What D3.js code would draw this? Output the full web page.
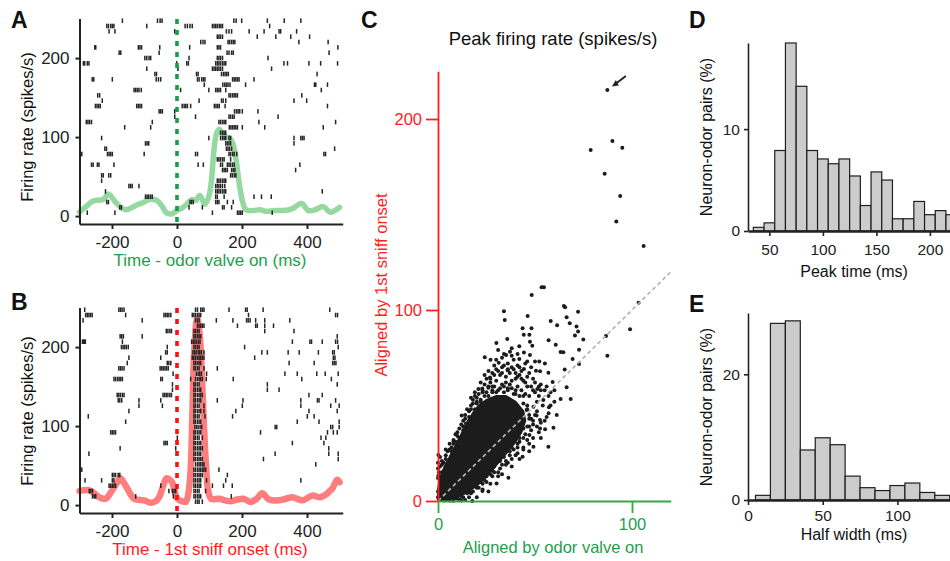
<!DOCTYPE html>
<html>
<head>
<meta charset="utf-8">
<script src="https://cdn.jsdelivr.net/npm/d3@7"></script>
<style>
  body { margin: 0; background: #fff; }
  svg { display: block; font-family: "Liberation Sans", Arial, sans-serif; }
</style>
</head>
<body>
<script>
// ---- data ----
// spike times (ms) per trial, top row first
const rasterValve = [
  [-168,-60,-52,-46,175,182,199,278,330,381],
  [-216,-211,-204,-199,-194,-93,25,32,40,47,109,114,119,124,130,135,140,285],
  [-209,-191,-7,152,160,168,222,268,314,319,368],
  [124,129,134,140,247,304,350,408],
  [73,80,86,157,162,168,173,178,375,465],
  [-253,-250,-119,-114,-109,-53,39,124,129,134,495],
  [-178,-173,-55,154,160,168,173,468],
  [-99,-93,-86,-81,37,124,129,134,140,280],
  [-288,-284,-276,-271,-1,30,35,119,124,129,134,140,145,150,329,340,406,442,494],
  [-93,3,109,114,119,124,129,134,140,291],
  [-68,-63,60,65,137,143,148,153,158,431,504],
  [-261,-256,-199,-64,-57,-50,63,68,76,81,86,171,176,181,186,191,237],
  [84,141,147,152,157,163,211,423,427,463],
  [-132,-127,-122,-117,-110,11,98,119,124,129,134,150,444],
  [-244,-238,160,165,171,176,181,186,384],
  [-230,68,137,142,150,360,399],
  [-251,-246,-241,-236,-124,-119,-114,-109,16,22,27,32,42,115,120,125,130,148,463,504],
  [-55,-50,-45,-7,177,183,188,193,201,249],
  [-7,57,160,165,171,176,311],
  [-279,-274,-269,-263,-76,129,134,140,145,150,252,488],
  [-161,-81,161,166,171,176,181,186,201,270,450],
  [134,140,145,150],
  [-232,98,134,140,145,150,160,165,360,381,386,391],
  [-97,-92,-87,150,155,160,165,360],
  [-222,-217,152,157,162,168,485],
  [-293,-214,-209,-204,-199,-101,57,63,160,165,171,176,184,452,457],
  [124,129,134,140,145,165],
  [-263,-258,-245,-240,-194,65,81,134,140,155,160,165,171,176,378],
  [140,145,150,155,168,173,178,365],
  [-232,-227,-210,-204,165,170,176,181],
  [-232,124,129,134,140,145,150],
  [-148,-143,-138,-117,119,124,129,134,140,147],
  [-220,119,124,129,134,140,145,150,447],
  [-97,-92,-87,-81,-76,119,124,145,237,260,290],
  [-216,-211,40,45,50,119,124,129,155,173],
  [-176,-171,37,78,140,145,168],
  [-276,-191,109,186,191,196,201,293]
];

const rasterSniff = [
  [-284,-179,-174,-169,-163,57,63,73,78,83,160,211,216,265,470],
  [-281,-276,-271,-266,-261,-158,-40,-35,-30,-25,-19,47,52,57,63,68,73,220,488,494],
  [-289,-107,57,63,68,121,172,214,219,225,242,270,347],
  [63,68,73,78,83,186,242,247,270,297],
  [-33,-28,-22,-17,52,57,63,68,270,360],
  [-175,-170,-165,-107,52,57,63,68,73,493],
  [-291,-288,-285,-282,-168,45,50,55,60,66,71,355,409,414,447,488,494],
  [-171,-166,-161,-156,-150,-30,52,57,63,68,208,496],
  [-35,-30,49,54,59,65,70,75,83,261,278,342,376,435,479,484],
  [-148,-50,47,52,57,63,68,73,78,83,239,481,486],
  [-153,-30,-25,-19,52,57,63,68,73,345,422,479,484,489],
  [-179,-174,-169,-163,-52,-47,-42,-37,-32,-27,52,57,63,68,83,124],
  [-12,60,65,70,75,91,332,370,430,456,496],
  [-194,-189,-183,-178,-173,-168,-50,-45,42,57,63,68,73,78,90,173,384,475],
  [-14,52,57,63,68,278,493],
  [-14,52,57,63,68,73,278,314],
  [-299,-184,-179,-174,-168,-163,-43,-38,-33,-28,-22,-17,52,57,63,68,73,78,406,447],
  [-181,-176,-170,-117,-50,52,57,63,68,73,124,203,381,432,437,488],
  [-117,-45,52,57,63,68,83,201,381,473,499],
  [-148,52,57,63,68,73,83,181,406,493],
  [-273,52,57,63,68,86,171,401,422],
  [-158,52,57,63,68,73,370,437,499],
  [55,60,65,71,76,302,307,473,479,499],
  [-204,-199,-194,-189,52,57,63,68,73,257,463,481,493],
  [1,52,57,63,68,78,443,458],
  [-299,-40,-35,-30,52,57,63,68,73,355,452],
  [-175,-4,52,57,63,68,73,78,467],
  [-271,1,52,57,63,68,73,302,467,496],
  [52,57,63,68,73,78,266,496],
  [57,63,68,73,78,83,427],
  [-293,52,57,63,68,73,78,83,88,129],
  [-199,-194,-189,-181,-176,52,57,63,68,73,78,155],
  [-283,-232,-199,-194,52,57,63,68,73,91,150,381],
  [-209,-204,-199,-194,-189,-50,52,57,63,68,73,109,143,170],
  [-270,-265,-260,-25,-14,-9,-4,52,57,63,68,88],
  [-260,-255,-250,-127,-11,52,57,63,68,73,167],
  [57,63,68,78]
];

// firing rate curves (time ms, spikes/s)
const rateValveT = [-300,-280,-258,-227,-211,-190,-170,-155,-124,-100,-88,-63,-45,-32,-15,-1,15,30,45,58,70,86,98,106,114,122,130,140,150,162,172,182,192,202,212,235,255,276,300,327,345,358,383,404,425,450,471,490,500];
const rateValve  = [5,12,19,21,28,18,10,8,14,18,21,20,12,4,3,7,10,15,21,20,26,15,25,45,85,105,110,104,100,99,92,70,40,18,8,7,8,6,7,7,8,10,16,7,8,12,5,8,11];

const rateSniffT = [-300,-271,-255,-240,-220,-199,-185,-174,-163,-153,-132,-101,-81,-65,-55,-42,-32,-22,-14,1,15,27,35,42,47,53,62,70,77,83,90,96,105,130,148,165,185,205,226,245,262,283,314,335,355,386,416,440,457,470,478,493,500];
const rateSniff  = [18,19,15,10,8,19,28,34,28,21,8,6,3,5,10,25,34,32,28,8,5,4,15,45,110,195,236,215,160,100,45,18,8,8,6,5,7,8,4,8,15,7,6,8,10,6,12,10,13,18,21,32,29];

// peak firing rate: solid core outline [valve, sniff]
const coreOutline = [[0,0],[0,6],[1,12],[3,17],[6,23],[9,29],[12,35],[15,41],[18,46],[21,50],[25,53],[30,55],[35,55],[40,52],[44,47],[45,42],[43,36],[40,31],[36,26],[31,20],[26,14],[20,8],[14,4],[8,1.5],[3,0]];
// individual neuron-odor pairs [valve, sniff]
const pairPoints = [
  [87.3,215.2],[78.7,183.8],[89.9,188.5],[95,185],[85.9,171.4],[93.9,159.7],[91.9,146.4],[106,133.5],
  [53.4,111.9],[54.6,111.9],[48.3,107.9],[103.4,103.8],[64.9,102.1],[65.5,101.4],[72.2,99.1],[34,99.3],
  [46.2,96.9],[34.4,94.8],[58.1,94.2],[66.3,96.2],[61.4,92],[67.9,93],[71.4,91.3],[43.6,90.4],[48.2,90.4],
  [72.2,88.8],[44.2,87],[47.1,87],[86.6,86.4],[70.6,86.6],[57,84.1],[74.9,84.6],[35.7,84.8],[47.4,83.4],
  [48.6,81.3],[99,89.9],[60.7,81.8],[30.1,82.7],[72.7,79.2],[41.9,81],[63.2,78],[64.6,77.9],[37.1,78.2],
  [44.3,77.7],[87.3,76.1],[24.1,75.2],[27.1,74],[31.3,72.4],[35.1,76.4],[41.9,74.4],[47.4,76.4],[52.2,73],
  [55.1,72],[69.4,74.4],[72.7,71.7],[65.3,68.8],[56.9,67.2],[50.5,68.2],[52.6,67.9],[44.3,69.1],[35.9,68.5],
  [26.8,64.7],[40.9,65],[66.3,59.5],[59.1,62.3],[51.2,58.6],[20.8,58.6],[22.8,58.9],[25.9,59.3],[63.2,53.4],
  [68.4,53.4],[57.2,49.1],[61.2,45],[12.2,44.7],[14.4,40.6],[59.5,38.4],[52.6,37.9],[55.2,37.6],[47.1,34.6],
  [49.2,28.4],[56.9,28.4],[43.6,23.2],[36.3,12.2],[30.2,9.2],[22.9,5.2],[17.7,0],[0.2,24.1],[0.2,13.2],
  [7.9,0.1],[52.6,42.4],[49.2,49.4],[45.7,47.6],[56,44],[54.3,52.9],[50.8,44.8],
  [8,30],[10,34],[13,39],[16,47],[18,51],[20,54],[23,57],[24,61],[27,62],[29,66],[30,69],[33,70],[36,72],
  [38,70],[40,67],[43,64],[45,62],[48,60],[50,57],[52,55],[44,55],[40,58],[35,62],[30,63],[28,60],[32,66],
  [38,63],[46,65],[42,70],[39,74],[33,75],[29,71],[31,79],[38,80],[45,72],[49,64],[53,61],[55,58],[54,50],
  [51,47],[49,42],[48,37],[46,32],[44,28],[41,25],[38,22],[35,19],[31,15],[28,13],[25,10],[21,7],[17,4],
  [13,2],[10,1.2],[6,0.3],[12,0.2],[3,0.2],[0,5],[0.5,2],[1,10],[0,17],[2,21],[4,27],[6,30],[26,68],
  [22,62],[19,57],[17,54],[34,30],[39,35],[53,41],[57,55],[60,58],[42,44],[40,48],
  [1,18],[2,15],[3,20],[4,22],[5,26],[7,28],[8,32],[9,35],[11,38],[12,40],[13,42],[14,45],[15,48],[17,50],
  [18,53],[19,55],[21,56],[23,58],[25,57],[26,60],[28,58],[10,28],[7,24],[5,20],[3,14],[2,10],[1,6],[16,44],
  [20,52],[22,52],[27,64],[29,60],[31,58],[33,61],[34,57],[36,59],[37,61],[39,56],[41,60],[43,58],[45,56],
  [47,55],[49,58],[51,52],[46,60],[44,63],[42,66],[40,64],[37,67],[35,65],[33,67],[31,68],[28,67],[25,64],
  [24,66],[34,71],[36,69],[39,69],[41,71],[43,68],[47,67],[48,70],[50,62],[52,60],[53,58],[56,60],[58,57],
  [46,73],[50,73],[38,76],[34,77],[30,74],[41,77],[46,50],[47,45],[48,43],[49,40],[47,39],[45,35],[44,33],
  [42,31],[41,28],[39,27],[37,24],[35,21],[33,19],[32,17],[29,15],[27,14],[24,11],[23,9],[20,7],[18,5],
  [15,4],[12,2.5],[9,1.5],[5,0.8],[2,0.5],[50,45],[51,39],[52,36],[49,33],[47,30],[44,27],[40,24],[36,20],
  [31,13],[27,9],[23,6],[16,2],[11,0.8],[14,0.5],[20,2],[26,5],[33,14],[38,18],[42,22],[47,26],[53,33],
  [55,42],[57,46],[58,50],[60,52],[0,2],[0,12],[0,20],[0.5,15],[1,23],
  [2,19],[4,24],[6,27],[8,31],[10,36],[11,33],[13,37],[14,43],[16,42],[17,48],[19,48],[20,51],[22,53],
  [24,55],[26,55],[28,57],[30,57],[32,59],[34,60],[36,58],[38,59],[40,56],[42,55],[44,51],[46,48],[47,43],
  [46,39],[44,38],[42,33],[41,30],[38,28],[37,26],[34,23],[32,21],[29,18],[28,16],[25,13],[22,10],[19,8],
  [16,5],[13,4.5],[10,2.5],[7,2],[4,1],[1,1],[4,18],[7,26],[9,31],[12,33],[5,15],[7,20],[3,9],[21,47],
  [27,50],[33,53],[39,50],[43,45]
];
const arrowPair = [87.3,215.2];

// histograms: left bin edge, width 10 ms, percent
const peakTimeEdges = [35,45,55,65,75,85,95,105,115,125,135,145,155,165,175,185,195,205,215];
const peakTimePct   = [0.36,0.8,7.9,18.45,14.2,7.9,7.07,6.6,7.07,5.4,2.5,5.8,5.0,1.2,1.2,2.9,1.6,2.0,1.6];
const halfWidthEdges = [5,15,25,35,45,55,65,75,85,95,105,115,125];
const halfWidthPct   = [0.74,28.1,28.5,7.96,9.9,8.8,3.8,1.96,1.5,2.3,2.7,1.2,0.74];

// ---- drawing ----
const W = 950, H = 561;
const font = '"Liberation Sans", Arial, sans-serif';
const ink = '#222';
const valveGreen = '#1e9e4e';
const sniffRed = '#ff1e1e';

const svg = d3.select('body').append('svg')
  .attr('width', W).attr('height', H)
  .attr('viewBox', `0 0 ${W} ${H}`);

svg.append('rect').attr('width', W).attr('height', H).attr('fill', '#fff');

function styleAxis(g, color, size, width) {
  g.selectAll('path.domain').attr('stroke', color).attr('stroke-width', width);
  g.selectAll('.tick line').attr('stroke', color).attr('stroke-width', width);
  g.selectAll('.tick text').attr('fill', color).style('font-size', size + 'px').style('font-family', font);
}

function letter(x, y, s) {
  svg.append('text').attr('x', x).attr('y', y).text(s)
    .style('font-family', font).style('font-weight', 'bold').style('font-size', '23px').attr('fill', '#111');
}

function label(x, y, s, color, size, rotate) {
  svg.append('text')
    .attr('transform', `translate(${x},${y})` + (rotate ? ' rotate(-90)' : ''))
    .attr('text-anchor', 'middle')
    .style('font-family', font).style('font-size', size + 'px')
    .attr('fill', color).text(s);
}

// raster panel (A and B)
function rasterPanel(trials, tt, rr, curveColor, curveWidth, lineColor, top, xTitle, xTitleColor, yLabelY) {
  const x = d3.scaleLinear().domain([-300, 510]).range([79.5, 342.75]);
  const y = d3.scaleLinear().domain([-10, 250]).range([top + 205.4, top]);
  const row = d3.scaleLinear().domain([0, trials.length - 1]).range([top + 2.1, top + 194.1]);

  const g = svg.append('g');

  // rate curve
  const pts = tt.map((t, i) => [t, rr[i]]);
  g.append('path')
    .datum(pts)
    .attr('fill', 'none')
    .attr('stroke', curveColor)
    .attr('stroke-width', curveWidth)
    .attr('stroke-linejoin', 'round')
    .attr('stroke-linecap', 'round')
    .attr('d', d3.line().x(d => x(d[0])).y(d => y(d[1])).curve(d3.curveCatmullRom));

  // spikes
  const spikes = [];
  trials.forEach((tr, i) => tr.forEach(t => { if (t <= 500) spikes.push({ t, i }); }));
  g.append('g').selectAll('rect')
    .data(spikes)
    .join('rect')
    .attr('x', d => x(d.t) - 0.75)
    .attr('y', d => row(d.i) - 2.3)
    .attr('width', 1.5)
    .attr('height', 4.6)
    .attr('fill', '#262626');

  // alignment line
  g.append('line')
    .attr('x1', x(0)).attr('x2', x(0))
    .attr('y1', top + 0.5).attr('y2', top + 207)
    .attr('stroke', lineColor).attr('stroke-width', 3.6)
    .attr('stroke-dasharray', '5,6');

  const ya = g.append('g').attr('transform', 'translate(79.5,0)')
    .call(d3.axisLeft(y).tickValues([0, 100, 200]).tickSize(4).tickSizeOuter(0).tickPadding(6));
  styleAxis(ya, ink, 17, 2);

  const xa = g.append('g').attr('transform', `translate(0,${top + 205.4})`)
    .call(d3.axisBottom(x).tickValues([-200, 0, 200, 400]).tickFormat(d3.format('d')).tickSize(5).tickSizeOuter(0).tickPadding(7));
  styleAxis(xa, ink, 17, 2);
  xa.selectAll('.tick text').text(d => d < 0 ? '-' + Math.abs(d) : d);

  label(210, top + 247.5, xTitle, xTitleColor, 17, false);
  label(33, yLabelY, 'Firing rate (spikes/s)', '#111', 16.5, true);
}

rasterPanel(rasterValve, rateValveT, rateValve, '#95d9a1', 5.5, '#13a04a', 18.6,
  'Time - odor valve on (ms)', valveGreen, 127);
rasterPanel(rasterSniff, rateSniffT, rateSniff, '#ff7d7d', 6.5, '#ff1010', 307.6,
  'Time - 1st sniff onset (ms)', sniffRed, 411);

letter(11, 28, 'A');
letter(11, 310, 'B');

// ---- panel C: scatter ----
const xC = d3.scaleLinear().domain([0, 120]).range([438, 670.8]);
const yC = d3.scaleLinear().domain([0, 225]).range([501, 71.25]);
const gC = svg.append('g');

gC.append('path')
  .datum(coreOutline)
  .attr('fill', '#1c1c1c')
  .attr('stroke', '#1c1c1c')
  .attr('stroke-width', 2)
  .attr('d', d3.line().x(d => xC(d[0])).y(d => yC(d[1])).curve(d3.curveLinearClosed));

gC.append('g').selectAll('circle')
  .data(pairPoints)
  .join('circle')
  .attr('cx', d => xC(d[0]))
  .attr('cy', d => yC(d[1]))
  .attr('r', 2)
  .attr('fill', '#1c1c1c');

gC.append('line')
  .attr('x1', xC(0)).attr('y1', yC(0))
  .attr('x2', xC(120)).attr('y2', yC(120))
  .attr('stroke', '#b4b4b4').attr('stroke-width', 1.7)
  .attr('stroke-dasharray', '4,3');

// arrow to the highest pair
const ax = xC(arrowPair[0]), ay = yC(arrowPair[1]);
gC.append('line')
  .attr('x1', ax + 18.5).attr('y1', ay - 14)
  .attr('x2', ax + 8).attr('y2', ay - 6)
  .attr('stroke', '#222').attr('stroke-width', 2);
gC.append('path')
  .attr('d', `M${ax + 4.5},${ay - 3.5} L${ax + 8.5},${ay - 10} L${ax + 11.5},${ay - 4.5} Z`)
  .attr('fill', '#222');

const yaC = gC.append('g').attr('transform', 'translate(438,0)')
  .call(d3.axisLeft(yC).tickValues([0, 100, 200]).tickSize(12).tickSizeOuter(0).tickPadding(4));
styleAxis(yaC, sniffRed, 16.5, 1.8);

const xaC = gC.append('g').attr('transform', 'translate(0,501)')
  .call(d3.axisBottom(xC).tickValues([0, 100]).tickSize(12).tickSizeOuter(0).tickPadding(5));
styleAxis(xaC, '#35a846', 16.5, 1.8);
xaC.selectAll('.tick text').attr('fill', valveGreen);

label(553, 45, 'Peak firing rate (spikes/s)', '#111', 18.5, false);
label(553, 553, 'Aligned by odor valve on', valveGreen, 16.5, false);
label(387, 285, 'Aligned by 1st sniff onset', sniffRed, 16.5, true);
letter(361, 28, 'C');

// ---- histograms D and E ----
function histPanel(edges, pct, xDomain, xRange, yTop, yBottom, yMax, yTicks, xTicks, xTitle, xTitleY, yLabelY, tickPad) {
  const x = d3.scaleLinear().domain(xDomain).range(xRange);
  const y = d3.scaleLinear().domain([0, yMax]).range([yBottom, yTop]);
  const g = svg.append('g');

  g.append('g').selectAll('rect')
    .data(edges.map((e, i) => ({ e, v: pct[i] })))
    .join('rect')
    .attr('x', d => x(d.e))
    .attr('y', d => y(d.v))
    .attr('width', d => x(d.e + 10) - x(d.e))
    .attr('height', d => y(0) - y(d.v))
    .attr('fill', '#cccccc')
    .attr('stroke', '#1e1e1e')
    .attr('stroke-width', 1.2);

  const ya = g.append('g').attr('transform', `translate(${xRange[0]},0)`)
    .call(d3.axisLeft(y).tickValues(yTicks).tickSize(4).tickSizeOuter(0).tickPadding(4));
  styleAxis(ya, ink, 15.5, 1.6);

  const xa = g.append('g').attr('transform', `translate(0,${yBottom})`)
    .call(d3.axisBottom(x).tickValues(xTicks).tickSize(5).tickSizeOuter(0).tickPadding(tickPad));
  styleAxis(xa, ink, 15.5, 1.6);
  xa.select('path.domain').attr('stroke-width', 2.6);

  label(xRange[0] + 106, xTitleY, xTitle, '#111', 16, false);
  label(712, yLabelY, 'Neuron-odor pairs (%)', '#111', 16, true);
}

histPanel(peakTimeEdges, peakTimePct, [30, 225], [748, 956.65], 43, 231, 18.45,
  [0, 10], [50, 100, 150, 200], 'Peak time (ms)', 277, 137, 8);
histPanel(halfWidthEdges, halfWidthPct, [0, 140], [748, 957.2], 313, 500, 29.75,
  [0, 20], [0, 50, 100], 'Half width (ms)', 540, 407, 5);

letter(689, 28, 'D');
letter(689, 312, 'E');
</script>
</body>
</html>
